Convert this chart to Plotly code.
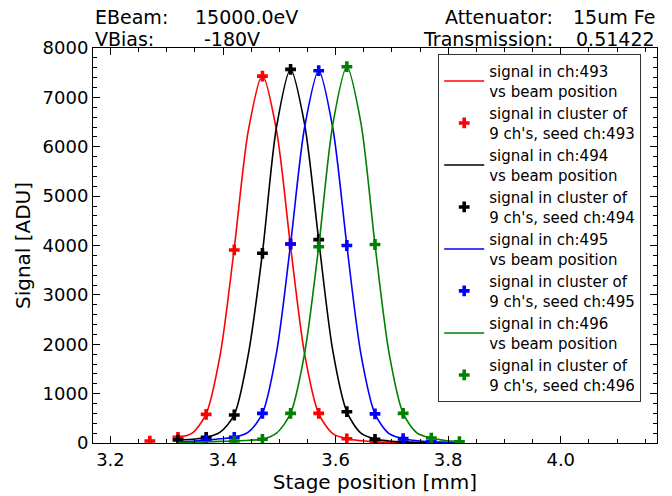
import plotly.graph_objects as go

# ---- data ----
channels = ["493", "494", "495", "496"]
colors = ["#ff0000", "#000000", "#0000ff", "#008000"]

# fine scan (line) positions, shared by all channels
line_x = [3.32, 3.345, 3.37, 3.395, 3.42, 3.445, 3.47, 3.495, 3.52, 3.545, 3.57,
          3.595, 3.62, 3.645, 3.67, 3.695, 3.72, 3.745, 3.77, 3.795, 3.82]
line_493 = [110, 200, 590, 1790, 3950, 6330, 7450, 6330, 3980, 1800, 595,
            190, 85, 45, 22, 12, 8, 6, 5, 4, 4]
line_494 = [60, 75, 112, 220, 575, 1800, 3850, 6400, 7570, 6450, 4110,
            1870, 630, 200, 80, 40, 22, 14, 10, 8, 6]
line_495 = [25, 35, 58, 85, 115, 220, 600, 1830, 4030, 6400, 7540,
            6380, 4000, 1800, 590, 190, 88, 45, 25, 15, 10]
line_496 = [10, 15, 22, 32, 42, 55, 78, 200, 600, 1820, 3980,
            6450, 7620, 6480, 4020, 1820, 600, 200, 100, 50, 26]
line_y = [line_493, line_494, line_495, line_496]

# cluster points (crosses)
pts_x = [
    [3.27, 3.32, 3.37, 3.42, 3.47, 3.52, 3.57, 3.62, 3.67],
    [3.32, 3.37, 3.42, 3.47, 3.52, 3.57, 3.62, 3.67, 3.72],
    [3.37, 3.42, 3.47, 3.52, 3.57, 3.62, 3.67, 3.72, 3.77],
    [3.42, 3.47, 3.52, 3.57, 3.62, 3.67, 3.72, 3.77, 3.82],
]
pts_y = [
    [40, 115, 580, 3910, 7430, 4030, 600, 85, 20],
    [60, 115, 567, 3842, 7568, 4120, 634, 75, 20],
    [60, 115, 600, 4030, 7540, 4000, 590, 90, 25],
    [40, 75, 600, 3976, 7621, 4020, 600, 100, 26],
]

x_ticks = [3.2, 3.4, 3.6, 3.8, 4.0]
y_ticks = [0, 1000, 2000, 3000, 4000, 5000, 6000, 7000, 8000]

FONT = "DejaVu Sans"

fig = go.Figure()
for i, ch in enumerate(channels):
    fig.add_trace(go.Scatter(
        x=line_x, y=line_y[i], mode="lines",
        line=dict(color=colors[i], width=1.6, shape="spline", smoothing=0.8),
        name=f"signal in ch:{ch}<br>vs beam position",
    ))
    fig.add_trace(go.Scatter(
        x=pts_x[i], y=pts_y[i], mode="markers",
        marker=dict(symbol="cross", color=colors[i], size=9, line=dict(width=0)),
        name=f"signal in cluster of<br>9 ch's, seed ch:{ch}",
    ))

axis_common = dict(
    showgrid=False, zeroline=False, showline=True, linecolor="black", linewidth=1,
    mirror="allticks", ticks="inside", ticklen=7, tickwidth=1, tickcolor="black",
    tickfont=dict(family=FONT, size=18, color="black"), automargin=False,
)
fig.update_xaxes(
    range=[3.169, 4.171], tickvals=x_ticks, ticktext=[f"{v:.1f}" for v in x_ticks],
    minor=dict(dtick=0.05, tick0=3.2, ticks="inside", ticklen=4, tickcolor="black", tickwidth=1),
    title=dict(text="Stage position [mm]", font=dict(family=FONT, size=20, color="black"), standoff=4),
    **axis_common,
)
fig.update_yaxes(
    range=[0, 8000], tickvals=y_ticks, ticktext=[str(v) for v in y_ticks],
    minor=dict(dtick=200, tick0=0, ticks="inside", ticklen=4, tickcolor="black", tickwidth=1),
    title=dict(text="Signal [ADU]", font=dict(family=FONT, size=20, color="black"), standoff=6),
    **axis_common,
)

ann = [
    ("EBeam:", 0.0, 1.078, "left"),
    ("15000.0eV", 0.367, 1.078, "right"),
    ("VBias:", 0.0, 1.023, "left"),
    ("-180V", 0.300, 1.023, "right"),
    ("Attenuator:", 0.819, 1.078, "right"),
    ("15um Fe", 1.0, 1.078, "right"),
    ("Transmission:", 0.819, 1.023, "right"),
    ("0.51422", 1.0, 1.023, "right"),
]
for text, x, y, xa in ann:
    fig.add_annotation(text=text, x=x, y=y, xref="paper", yref="paper",
                       xanchor=xa, yanchor="middle", showarrow=False,
                       font=dict(family=FONT, size=19, color="black"))

fig.update_layout(
    width=672, height=496,
    margin=dict(l=93, r=15, t=48, b=53),
    plot_bgcolor="white", paper_bgcolor="white",
    font=dict(family=FONT, size=15, color="black"),
    showlegend=True,
    legend=dict(
        x=0.972, y=0.985, xanchor="right", yanchor="top",
        bgcolor="white", bordercolor="#333333", borderwidth=1,
        font=dict(family=FONT, size=15, color="black"),
        itemwidth=40,
    ),
)

fig.write_html("out.html")
